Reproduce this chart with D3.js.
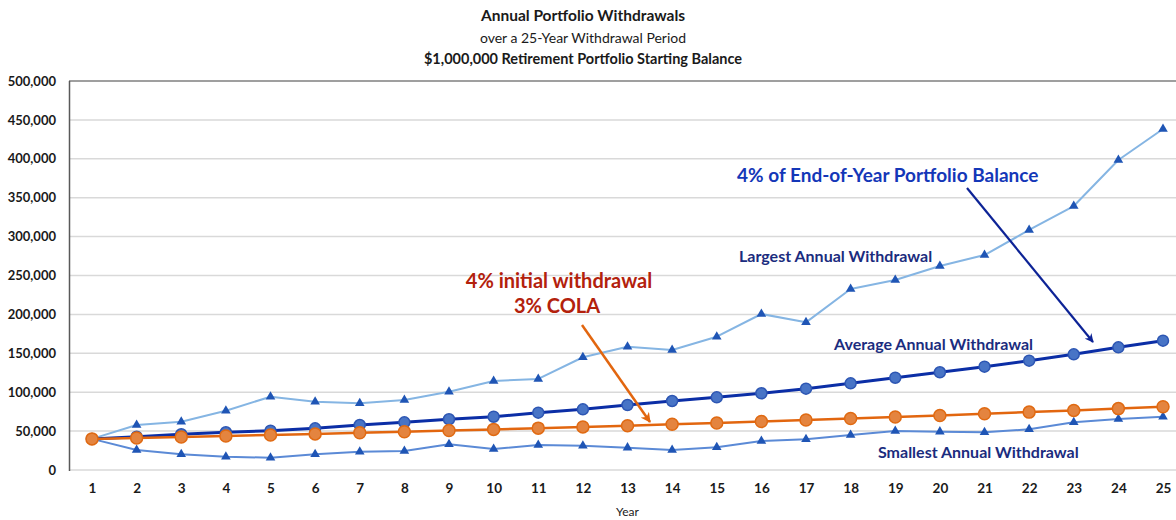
<!DOCTYPE html>
<html><head><meta charset="utf-8">
<script src="https://cdn.jsdelivr.net/npm/d3@7"></script>
<style>body{margin:0;background:#fff}svg{display:block;font-family:Lato,"Open Sans",sans-serif}</style>
</head><body><svg id="c" width="1176" height="520"></svg>
<script>
const years = d3.range(1, 26);
const yTicks = [0,50000,100000,150000,200000,250000,300000,350000,400000,450000,500000];
const largest = [40000,57800,62100,76200,94200,87800,85700,90000,100600,114400,117000,144900,158500,154200,171300,200500,189800,232600,244200,262200,276300,308500,339300,398500,438300];
const average = [40000,42800,45900,48500,50500,53600,57800,61300,65200,68500,73700,78000,83500,88700,93400,98600,104500,111400,118600,125600,132800,140500,148700,157700,166200];
const cola = [40000,41200,42400,43700,45000,46400,47800,49200,50700,52200,53800,55400,57000,58700,60500,62300,64200,66100,68100,70100,72200,74400,76600,78900,81300];
const smallest = [40000,25700,20200,17100,15800,20200,23500,24400,33000,27000,32100,31200,28700,25700,29200,37300,39500,45000,50100,49300,48500,52300,61300,65600,68500];
const titles = ["Annual Portfolio Withdrawals","over a 25-Year Withdrawal Period","$1,000,000 Retirement Portfolio Starting Balance"];

const svg = d3.select("#c");
const x = d3.scalePoint().domain(years).range([92,1163]);
const y = d3.scaleLinear().domain([0,500000]).range([470,81]);
const fmt = d3.format(",");

// gridlines
svg.append("g").selectAll("line").data(yTicks).join("line")
  .attr("x1",69).attr("x2",1176).attr("y1",d=>y(d)).attr("y2",d=>y(d))
  .attr("stroke",d=>d===500000?"#7f7f7f":"#d9d9d9").attr("stroke-width",1.5);
// left axis
svg.append("line").attr("x1",69.5).attr("x2",69.5).attr("y1",81).attr("y2",471).attr("stroke","#595959").attr("stroke-width",1.5);

// y labels
const yAxis = d3.axisLeft(y).tickValues(yTicks).tickFormat(fmt).tickSize(0).tickPadding(0);
const ga = svg.append("g").attr("transform","translate(56,0)").call(yAxis);
ga.select(".domain").remove();
ga.selectAll("text").attr("font-size",13).attr("font-weight","bold").attr("fill","#1a1a1a").attr("font-family","Lato");
// x labels
const xAxis = d3.axisBottom(x).tickSize(0).tickPadding(0);
const gx = svg.append("g").attr("transform","translate(0,483)").call(xAxis);
gx.select(".domain").remove();
gx.selectAll("text").attr("font-size",13.5).attr("font-weight","bold").attr("fill","#1a1a1a").attr("font-family","Lato");
svg.append("text").attr("x",x(13)).attr("y",516).attr("text-anchor","middle").attr("font-size",12).attr("fill","#1a1a1a").text("Year");

// titles
svg.append("text").attr("x",583).attr("y",21).attr("text-anchor","middle").attr("font-size",15.5).attr("font-weight","bold").attr("fill","#1a1a1a").text(titles[0]);
svg.append("text").attr("x",583).attr("y",43).attr("text-anchor","middle").attr("font-size",14).attr("fill","#1a1a1a").text(titles[1]);
svg.append("text").attr("x",583).attr("y",64).attr("text-anchor","middle").attr("font-size",14.5).attr("font-weight","bold").attr("fill","#1a1a1a").text(titles[2]);

const line = d3.line().x((d,i)=>x(years[i])).y(d=>y(d));
function series(data, lineColor, lw, marker, mFill, mStroke, size){
  svg.append("path").datum(data).attr("d",line).attr("fill","none").attr("stroke",lineColor).attr("stroke-width",lw).attr("stroke-linejoin","round");
  const g = svg.append("g");
  if(marker==="tri"){
    g.selectAll("path").data(data).join("path")
      .attr("d",d3.symbol().type(d3.symbolTriangle).size(size))
      .attr("transform",(d,i)=>`translate(${x(years[i])},${y(d)})`)
      .attr("fill",mFill);
  } else {
    g.selectAll("circle").data(data).join("circle")
      .attr("cx",(d,i)=>x(years[i])).attr("cy",d=>y(d)).attr("r",size)
      .attr("fill",mFill).attr("stroke",mStroke).attr("stroke-width",1.5);
  }
}
series(largest,"#85b5e3",2,"tri","#1f55b5",null,40);
series(smallest,"#5b8ad6",2,"tri","#1f55b5",null,40);
series(average,"#0b2ea6",3,"circle","#4874c6","#2d56b3",5.5);
series(cola,"#e2660f",2.5,"circle","#e4843f","#e06a12",6);

// annotations
const defs = svg.append("defs");
function arrowMarker(id,color){
  defs.append("marker").attr("id",id).attr("viewBox","0 0 10 10").attr("refX",9).attr("refY",5)
   .attr("markerWidth",4).attr("markerHeight",4).attr("orient","auto")
   .append("path").attr("d","M0,0 L10,5 L0,10 L3,5 Z").attr("fill",color);
}
arrowMarker("ab","#0d2396");
arrowMarker("ao","#e2660f");
svg.append("line").attr("x1",967).attr("y1",188).attr("x2",1093).attr("y2",342).attr("stroke","#0d2396").attr("stroke-width",2.2).attr("marker-end","url(#ab)");
svg.append("line").attr("x1",582).attr("y1",325).attr("x2",650).attr("y2",422).attr("stroke","#e2660f").attr("stroke-width",2.5).attr("marker-end","url(#ao)");

svg.append("text").attr("x",737).attr("y",182).attr("font-size",19).attr("fill","#1437b8").attr("font-weight","bold").text("4% of End-of-Year Portfolio Balance");
svg.append("text").attr("x",739).attr("y",262).attr("font-size",16).attr("font-weight","bold").attr("fill","#1b2c7e").text("Largest Annual Withdrawal");
svg.append("text").attr("x",834).attr("y",350).attr("font-size",16).attr("font-weight","bold").attr("fill","#1b2c7e").text("Average Annual Withdrawal");
svg.append("text").attr("x",878).attr("y",458).attr("font-size",16).attr("font-weight","bold").attr("fill","#1b2c7e").text("Smallest Annual Withdrawal");
svg.append("text").attr("x",559).attr("y",288).attr("text-anchor","middle").attr("font-size",20).attr("font-weight","bold").attr("fill","#b3210c").text("4% initial withdrawal");
svg.append("text").attr("x",557).attr("y",313).attr("text-anchor","middle").attr("font-size",20).attr("font-weight","bold").attr("fill","#b3210c").text("3% COLA");
</script></body></html>
